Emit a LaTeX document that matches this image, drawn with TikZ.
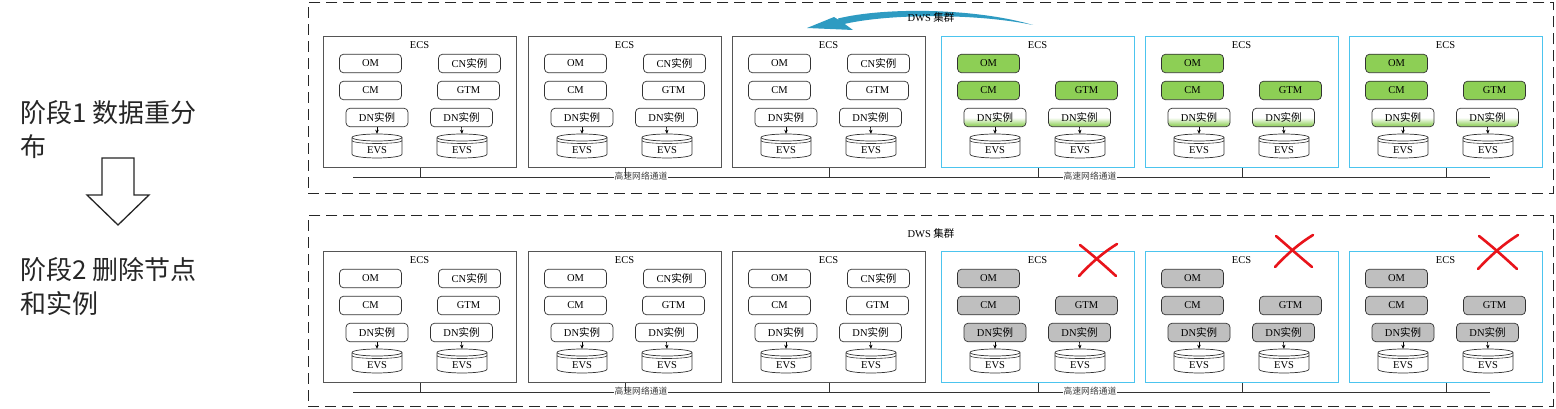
\documentclass[tikz,border=0pt]{standalone}
\usepackage{fontspec}
\setmainfont{Liberation Serif}
\newfontfamily\cjk{Noto Sans CJK SC}
\usetikzlibrary{arrows.meta,calc}
\definecolor{boxgray}{HTML}{555555}
\definecolor{boxblue}{HTML}{4CC4EE}
\definecolor{gfill}{HTML}{8DCF55}
\definecolor{kfill}{HTML}{BFBFBF}
\definecolor{teal}{HTML}{2E9BC2}
\definecolor{xred}{HTML}{E8141B}
\pgfdeclareverticalshading{dnshade}{100bp}{color(0bp)=(gfill); color(25bp)=(gfill); color(33bp)=(gfill!75); color(50bp)=(white); color(100bp)=(white)}
\newcommand\evscyl[3]{% name, cx, top
  \fill[white] (#2-25,#3+4) -- (#2-25,#3+20) .. controls (#2-25,#3+25.3) and (#2+25,#3+25.3) .. (#2+25,#3+20) -- (#2+25,#3+4) -- cycle;
  \draw[line width=0.7pt,black!80] (#2-25,#3+4) -- (#2-25,#3+20) .. controls (#2-25,#3+25.3) and (#2+25,#3+25.3) .. (#2+25,#3+20) -- (#2+25,#3+4);
  \draw[line width=0.7pt,black!80,fill=white] (#2,#3+3.5) ellipse [x radius=25, y radius=3.5];
  \draw[line width=0.6pt,black!80] (#2-25,#3+6.5) .. controls (#2-25,#3+10.5) and (#2+25,#3+10.5) .. (#2+25,#3+6.5);
  \node[inner sep=0,minimum width=50pt,minimum height=24pt] (#1) at (#2,#3+12) {};
  \node[lbl] (#1t) at (#2,#3+16.5) {EVS};
}
\tikzset{
  frame/.style={draw=black!85,line width=0.9pt,dash pattern=on 11pt off 6pt},
  boxw/.style={draw=boxgray,line width=1pt},
  boxg/.style={draw=boxblue,line width=1.2pt},
  boxk/.style={draw=boxblue,line width=1.2pt},
  comp/.style={draw=black!80,line width=0.7pt,rounded corners=4pt,minimum width=62pt,minimum height=18.5pt,inner sep=0,font=\fontsize{10.5}{11}\selectfont},
  fillw/.style={fill=white},
  fillg/.style={fill=gfill},
  fillk/.style={fill=kfill},
  dnw/.style={fill=white},
  dng/.style={shading=dnshade},
  dnk/.style={fill=kfill},
  lbl/.style={inner sep=1pt,font=\fontsize{10.5}{11}\selectfont},
  buslbl/.style={fill=white,inner sep=1pt,font=\cjk\fontsize{8.8}{9}\selectfont,text=black!75},
  stage/.style={align=left,inner sep=0,anchor=west,font=\cjk\fontsize{26}{34}\selectfont,text=black!85},
  xmark/.style={draw=xred,line width=2.6pt,line cap=round},
  dnarrow/.style={line width=0.6pt,-{Stealth[length=4pt,width=3.5pt]}},
}
\begin{document}
\begin{tikzpicture}[x=1pt,y=-1pt]
\useasboundingbox[fill=white] (0,0) rectangle (1556,409);
% left texts
\node[stage] (s1) at (20,130) {阶段1 数据重分\\布};
\node[stage] (s2) at (20,287) {阶段2 删除节点\\和实例};
\draw[line width=1.3pt,black!85,line join=miter] (102,158) -- (134,158) -- (134,195) -- (149,195) -- (118,225) -- (87,195) -- (102,195) -- cycle;
% frames
\node[frame,minimum width=1245pt,minimum height=191pt,anchor=north west,inner sep=0] (f1) at (308,2) {};
\node[frame,minimum width=1245pt,minimum height=191pt,anchor=north west,inner sep=0] (f2) at (308,215) {};
% top curved arrow
\fill[teal] (1033,25) .. controls (975,8) and (885,7) .. (838,18.5) -- (840,25) .. controls (885,13.5) and (975,13) .. (1033,25) -- cycle;
\fill[teal] (807,28) -- (834,17) -- (842,22) -- (853,30) -- cycle;
\node[lbl,font=\fontsize{10.5}{11}\selectfont] (dws1) at (931,18) {DWS {\cjk 集群}};
\node[lbl,font=\fontsize{10.5}{11}\selectfont] (dws2) at (931,233) {DWS {\cjk 集群}};
% rows
\foreach \r/\Y/\k in {1/0/g,2/215/k}{
  \coordinate (busL\r) at (353,177+\Y);
  \coordinate (busR\r) at (1490,177+\Y);
  \draw[line width=0.9pt,black!80] (busL\r) -- (busR\r);
  \node[buslbl] (bl\r a) at (641,176+\Y) {高速网络通道};
  \node[buslbl] (bl\r b) at (1090,176+\Y) {高速网络通道};
  \foreach \i/\L in {1/323,2/528,3/732,4/941,5/1145,6/1349}{
    \ifnum\i<4 \def\kind{w}\else\edef\kind{\k}\fi
    \node[box\kind,minimum width=193pt,minimum height=131pt,anchor=north west,inner sep=0] (b\r\i) at (\L,36+\Y) {};
    \draw[line width=0.9pt,black!80] (b\r\i.south) -- (b\r\i.south |- busL\r);
    \node[lbl] (e\r\i) at (\L+96.5,45+\Y) {ECS};
    \node[comp,fill\kind] (om\r\i) at (\L+47.5,63.5+\Y) {OM};
    \node[comp,fill\kind] (cm\r\i) at (\L+47.5,90.5+\Y) {CM};
    \node[comp,fill\kind] (gtm\r\i) at (\L+145.5,90.5+\Y) {GTM};
    \ifnum\i<4 \node[comp,fillw] (cn\r\i) at (\L+146.5,63.5+\Y) {CN{\cjk 实例}};\fi
    \node[comp,dn\kind] (dna\r\i) at (\L+54,117.5+\Y) {DN{\cjk 实例}};
    \node[comp,dn\kind] (dnb\r\i) at (\L+138.5,117.5+\Y) {DN{\cjk 实例}};
    \pgfmathsetmacro\ca{\L+54}
    \pgfmathsetmacro\cb{\L+139}
    \pgfmathsetmacro\tp{134+\Y}
    \evscyl{evsa\r\i}{\ca}{\tp}
    \evscyl{evsb\r\i}{\cb}{\tp}
    \draw[dnarrow] (dna\r\i.south) -- (evsa\r\i.north);
    \draw[dnarrow] (dnb\r\i.south) -- (evsb\r\i.north);
  }
}
% red crosses
\draw[xmark] (1080,245) .. controls (1095,257) and (1105,266) .. (1116,276);
\draw[xmark] (1079,276) .. controls (1092,262) and (1104,252) .. (1117,244);
\draw[xmark] (1276,236) .. controls (1290,248) and (1300,257) .. (1312,267);
\draw[xmark] (1275,267) .. controls (1288,253) and (1300,243) .. (1313,235);
\draw[xmark] (1479,236) .. controls (1494,248) and (1504,257) .. (1517,269);
\draw[xmark] (1478,269) .. controls (1492,254) and (1504,244) .. (1518,235);
\end{tikzpicture}
\end{document}
